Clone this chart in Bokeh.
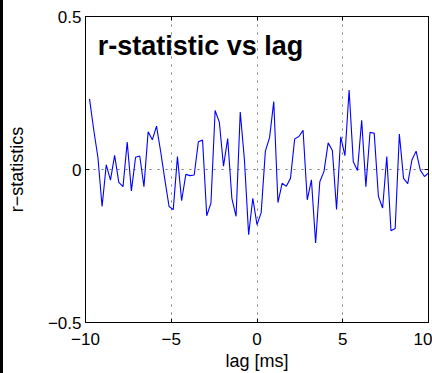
from bokeh.plotting import figure
from bokeh.models import FixedTicker, LinearAxis, Label, Div, Range1d, CustomJSTickFormatter
from bokeh.layouts import row
from bokeh.embed import file_html
from bokeh.resources import INLINE

# lag axis (ms)
lag_ms = [-9.766, -9.521, -9.277, -9.033, -8.789, -8.545, -8.301, -8.057, -7.812, -7.568,
          -7.324, -7.080, -6.836, -6.592, -6.348, -6.104, -5.859, -5.615, -5.371, -5.127,
          -4.883, -4.639, -4.395, -4.150, -3.906, -3.662, -3.418, -3.174, -2.930, -2.686,
          -2.441, -2.197, -1.953, -1.709, -1.465, -1.221, -0.977, -0.732, -0.488, -0.244,
          0.000, 0.244, 0.488, 0.732, 0.977, 1.221, 1.465, 1.709, 1.953, 2.197,
          2.441, 2.686, 2.930, 3.174, 3.418, 3.662, 3.906, 4.150, 4.395, 4.639,
          4.883, 5.127, 5.371, 5.615, 5.859, 6.104, 6.348, 6.592, 6.836, 7.080,
          7.324, 7.568, 7.812, 8.057, 8.301, 8.545, 8.789, 9.033, 9.277, 9.521,
          9.766, 10.010]

# r-statistic values
r_stat = [0.231, 0.130, 0.040, -0.121, 0.015, -0.035, 0.046, -0.042, -0.056, 0.090,
          -0.070, 0.040, 0.044, -0.056, 0.123, 0.097, 0.142, 0.058, -0.034, -0.121,
          -0.131, 0.042, -0.102, -0.016, -0.020, -0.018, 0.091, 0.096, -0.151, -0.110,
          0.193, 0.155, 0.011, 0.101, -0.094, -0.153, 0.188, 0.031, -0.213, -0.094,
          -0.180, -0.141, 0.060, 0.104, 0.222, -0.108, -0.045, -0.055, -0.029, 0.100,
          0.108, 0.128, -0.099, -0.034, -0.240, -0.040, -0.006, 0.087, 0.062, -0.131,
          0.107, 0.045, 0.260, 0.025, -0.003, 0.161, -0.056, 0.122, 0.118, -0.088,
          -0.126, 0.042, -0.200, -0.193, 0.116, -0.029, -0.046, 0.031, 0.060, -0.002,
          -0.023, -0.011]

x_ticks = [-10, -5, 0, 5, 10]
y_ticks = [-0.5, 0, 0.5]
title_text = "r-statistic vs lag"
x_label = "lag [ms]"
y_label = "r\u2212statistics"

FONT = "Liberation Sans"

p = figure(width=429, height=373, min_border_left=81, min_border_right=4,
           min_border_top=16, min_border_bottom=50, margin=0,
           x_range=Range1d(-10, 10), y_range=Range1d(-0.5, 0.5),
           output_backend="svg", toolbar_location=None)
p.background_fill_color = "white"
p.border_fill_color = "white"
p.outline_line_color = "black"
p.outline_line_width = 1

fmt_code = "return tick < 0 ? '\u2212' + (-tick) : String(tick);"

for ax in (p.xaxis[0], p.yaxis[0]):
    ax.formatter = CustomJSTickFormatter(code=fmt_code)
    ax.major_tick_in = 4
    ax.major_tick_out = 0
    ax.minor_tick_line_color = None
    ax.axis_line_color = "black"
    ax.major_tick_line_color = "black"
    ax.major_label_text_font = FONT
    ax.major_label_text_font_size = "17px"
    ax.major_label_text_color = "black"
    ax.axis_label_text_font = FONT
    ax.axis_label_text_font_size = "18px"
    ax.axis_label_text_font_style = "normal"
    ax.axis_label_text_color = "black"

p.xaxis[0].ticker = FixedTicker(ticks=x_ticks)
p.yaxis[0].ticker = FixedTicker(ticks=y_ticks)
p.xaxis[0].axis_label = x_label
p.yaxis[0].axis_label = y_label
p.xaxis[0].major_label_standoff = 10
p.xaxis[0].axis_label_standoff = 3
p.yaxis[0].major_label_standoff = 4
p.yaxis[0].axis_label_standoff = 18

blank = CustomJSTickFormatter(code="return '';")
top = LinearAxis(ticker=FixedTicker(ticks=x_ticks), formatter=blank,
                 major_tick_in=4, major_tick_out=0, minor_tick_line_color=None,
                 major_label_standoff=0, axis_line_color="black")
right = LinearAxis(ticker=FixedTicker(ticks=y_ticks), formatter=blank,
                   major_tick_in=4, major_tick_out=0, minor_tick_line_color=None,
                   major_label_standoff=0, axis_line_color="black")
p.add_layout(top, "above")
p.add_layout(right, "right")

p.xgrid.ticker = FixedTicker(ticks=x_ticks)
p.ygrid.ticker = FixedTicker(ticks=y_ticks)
for g in (p.xgrid[0], p.ygrid[0]):
    g.grid_line_color = "#777777"
    g.grid_line_dash = "2 6"
    g.grid_line_width = 1

p.line(lag_ms, r_stat, line_color="#0000ff", line_width=1.1)

p.add_layout(Label(x=-9.29, y=0.403, text=title_text, text_font=FONT,
                   text_font_size="27px", text_font_style="bold",
                   text_color="black", text_baseline="alphabetic", text_align="left"))

edge = Div(width=3, height=373, margin=0, styles={"background-color": "black"})
layout = row(edge, p, spacing=0, margin=0)

open("out.html", "w").write(file_html(layout, INLINE))
